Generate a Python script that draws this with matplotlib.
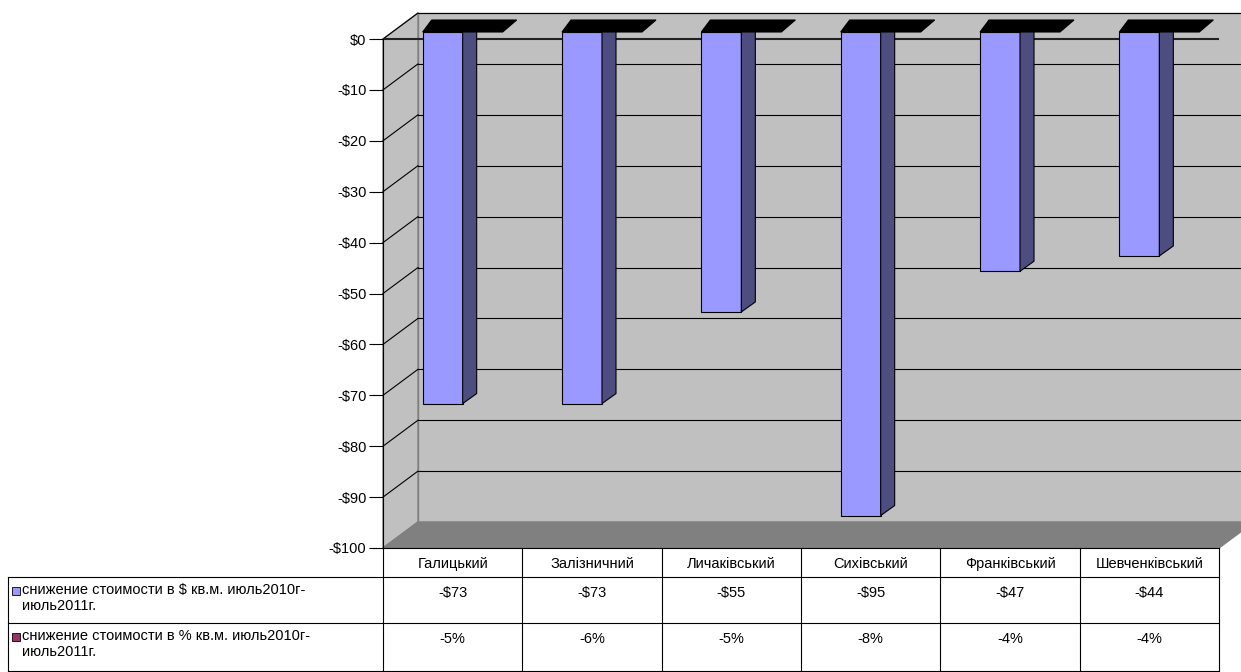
import numpy as np
import matplotlib.pyplot as plt
from matplotlib.patches import Polygon, Rectangle

districts = ['Галицький', 'Залізничний', 'Личаківський', 'Сихівський', 'Франківський', 'Шевченківський']
drop_usd = [-73, -73, -55, -95, -47, -44]
drop_pct = ['-5%', '-6%', '-5%', '-8%', '-4%', '-4%']
row_labels = ['снижение стоимости в $ кв.м. июль2010г-\nиюль2011г.',
              'снижение стоимости в % кв.м. июль2010г-\nиюль2011г.']
row_colors = ['#9999ff', '#993366']
yticks = list(range(0, -101, -10))

W, H = 1241, 672
fig = plt.figure(figsize=(W / 100, H / 100), dpi=100)
plt.rcParams['font.family'] = ['Liberation Sans', 'DejaVu Sans']
FS = 10.5

# front box in pixels: x 383..1219, y 39 ($0) .. 548 (-$100), top of figure area 13
x0, x1, y0, y100 = 383, 1219, 39, 548
pxx = (x1 - x0) / 6.0
pxy = (y100 - y0) / 100.0
top_extra = (y0 - 13) / pxy
ax = fig.add_axes([x0 / W, 1 - y100 / H, (x1 - x0) / W, (y100 - 13) / H])
ax.set_xlim(-0.5, 5.5)
ax.set_ylim(-100, top_extra)

def dxu(p):
    return p / pxx

def dyu(p):
    return p / pxy

# depth of the box
DX, DY = dxu(35), dyu(26)
wall = '#c0c0c0'
ax.add_patch(Polygon([(-0.5 + DX, -100 + DY), (5.5 + DX, -100 + DY), (5.5 + DX, DY), (-0.5 + DX, DY)],
                     closed=True, fc=wall, ec='#808080', lw=1, clip_on=False, zorder=0))
ax.add_patch(Polygon([(-0.5, -100), (-0.5 + DX, -100 + DY), (-0.5 + DX, DY), (-0.5, 0)],
                     closed=True, fc=wall, ec='#808080', lw=1, clip_on=False, zorder=0))
ax.add_patch(Polygon([(-0.5, -100), (5.5, -100), (5.5 + DX, -100 + DY), (-0.5 + DX, -100 + DY)],
                     closed=True, fc='#808080', ec='#808080', lw=1, clip_on=False, zorder=1))
for v in yticks:
    if v == -100:
        continue
    ax.plot([-0.5, -0.5 + DX], [v, v + DY], color='black', lw=0.8, clip_on=False, zorder=1)
    ax.plot([-0.5 + DX, 5.5 + DX], [v + DY, v + DY], color='black', lw=0.8, clip_on=False, zorder=1)

# bars (sitting at mid depth)
bw = dxu(40)
bx_shift = dxu(-10)
by_shift = dyu(7)
sx, sy = dxu(14), dyu(10)
for i, v in enumerate(drop_usd):
    left = i + bx_shift - bw / 2
    right = left + bw
    ax.bar(left, v, width=bw, bottom=by_shift, align='edge', color='#9999ff',
           edgecolor='black', lw=0.8, zorder=3, clip_on=False)
    ax.add_patch(Polygon([(right, by_shift), (right, by_shift + v), (right + sx, by_shift + v + sy),
                          (right + sx, by_shift + sy)], closed=True, fc='#4d4d80', ec='black',
                         lw=0.8, zorder=3, clip_on=False))
    ax.add_patch(Polygon([(left, by_shift), (left + dxu(9), by_shift + dyu(12)),
                          (left + dxu(94), by_shift + dyu(12)), (left + dxu(80), by_shift)],
                         closed=True, fc='black', ec='black', lw=0.8, zorder=4, clip_on=False))

ax.axhline(0, color='#222222', lw=1.5, zorder=2)
for s in ['top', 'right', 'bottom']:
    ax.spines[s].set_visible(False)
ax.spines['left'].set_bounds(-100, 0)
ax.spines['left'].set_linewidth(0.8)
ax.set_xticks([])
ax.set_yticks(yticks)
ax.set_yticklabels(['$0' if v == 0 else '-$%d' % -v for v in yticks], fontsize=FS)
ax.tick_params(axis='y', length=10, width=0.8, pad=2)
ax.patch.set_visible(False)

# data table in pixel coords
tb = fig.add_axes([0, 0, 1, 1])
tb.set_xlim(0, W)
tb.set_ylim(H, 0)
tb.axis('off')
ys = [548, 577, 623, 671]
for y in ys:
    tb.plot([x0 if y == 548 else 8, x1], [y, y], color='black', lw=0.8)
for k in range(7):
    x = x0 + k * pxx
    tb.plot([x, x], [548, 671], color='black', lw=0.8)
tb.plot([8, 8], [577, 671], color='black', lw=0.8)
for k, name in enumerate(districts):
    tb.text(x0 + (k + 0.5) * pxx, 564, name, ha='center', va='center', fontsize=FS)
    tb.text(x0 + (k + 0.5) * pxx, 593, '-$%d' % -drop_usd[k], ha='center', va='center', fontsize=FS)
    tb.text(x0 + (k + 0.5) * pxx, 639, drop_pct[k], ha='center', va='center', fontsize=FS)
for r, (lab, c) in enumerate(zip(row_labels, row_colors)):
    yt = ys[r + 1]
    tb.add_patch(Rectangle((12, yt + 10), 8, 8, fc=c, ec='black', lw=0.6))
    tb.text(22, yt + 6, lab, ha='left', va='top', fontsize=FS, linespacing=1.2)

fig.savefig('out.png', dpi=100)
